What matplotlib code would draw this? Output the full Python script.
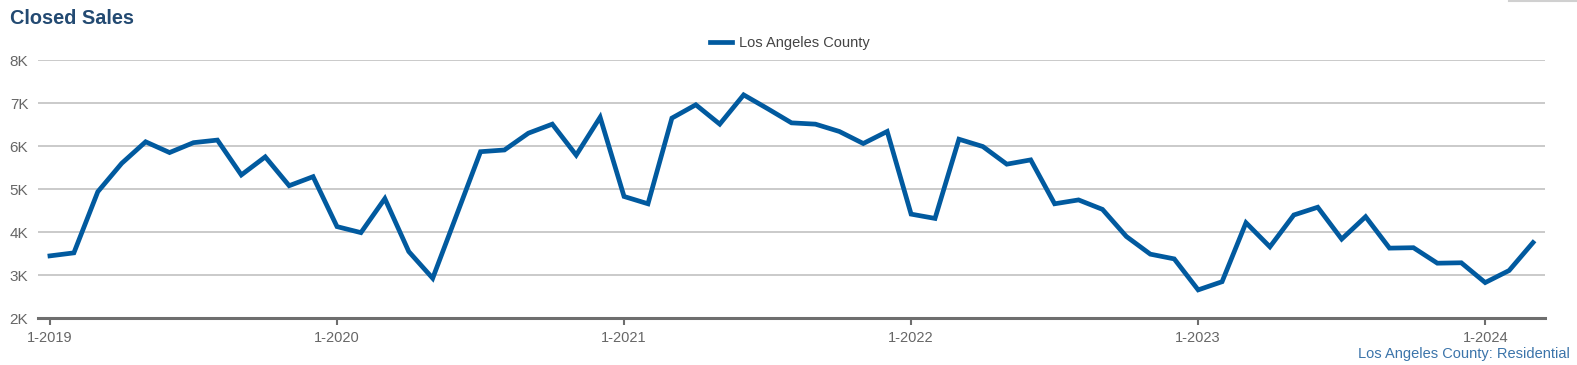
import matplotlib
matplotlib.use("Agg")
import matplotlib.pyplot as plt
from matplotlib.lines import Line2D
from matplotlib.ticker import FuncFormatter

plt.rcParams['font.family'] = ['Liberation Sans', 'DejaVu Sans']

# monthly closed sales, Jan 2019 .. Mar 2024 (thousands)
sales = [3.45, 3.52, 4.94, 5.60, 6.10, 5.85, 6.08, 6.14, 5.33, 5.75, 5.08, 5.29,
         4.13, 3.99, 4.78, 3.55, 2.93, 4.40, 5.87, 5.91, 6.30, 6.51, 5.79, 6.67,
         4.83, 4.66, 6.65, 6.96, 6.51, 7.19, 6.87, 6.54, 6.51, 6.34, 6.06, 6.34,
         4.42, 4.32, 6.16, 5.99, 5.58, 5.68, 4.66, 4.75, 4.53, 3.90, 3.49, 3.38,
         2.66, 2.85, 4.22, 3.66, 4.40, 4.58, 3.84, 4.36, 3.63, 3.64, 3.28, 3.29,
         2.83, 3.11, 3.76]
sales = [v * 1000 for v in sales]
months = list(range(len(sales)))
year_ticks = [0, 12, 24, 36, 48, 60]
year_labels = ['1-2019', '1-2020', '1-2021', '1-2022', '1-2023', '1-2024']
y_ticks = [2000, 3000, 4000, 5000, 6000, 7000, 8000]

fig = plt.figure(figsize=(15.77, 3.65), dpi=100)
ax = fig.add_axes([38 / 1577, 1 - 318.3 / 365, (1545 - 38) / 1577, (318.3 - 60) / 365])

ax.plot(months, sales, color='#015a9f', lw=3.4, solid_joinstyle='miter', zorder=3,
        label='Los Angeles County')

ax.set_xlim(-0.5, 62.5)
ax.set_ylim(2000, 8000)
ax.set_yticks(y_ticks)
ax.yaxis.set_major_formatter(FuncFormatter(lambda v, p: '%dK' % (v / 1000)))
ax.set_xticks(year_ticks)
ax.set_xticklabels(year_labels)

ax.grid(axis='y', color='#c6c6c6', lw=1.3)
ax.set_axisbelow(True)
for s in ['top', 'right', 'left']:
    ax.spines[s].set_visible(False)
ax.spines['bottom'].set_color('#6e6e6e')
ax.spines['bottom'].set_linewidth(2.2)
ax.spines['bottom'].set_zorder(4)

ax.tick_params(axis='y', length=0, pad=7, labelsize=11, labelcolor='#666666')
ax.tick_params(axis='x', length=5, width=1.5, color='#6e6e6e', pad=4,
               labelsize=10.5, labelcolor='#666666')

fig.text(10 / 1577, 1 - 18 / 365, 'Closed Sales', fontsize=14.3, fontweight='bold',
         color='#234a72', va='center', ha='left')

leg = ax.legend(loc='center', bbox_to_anchor=(790 / 1577, 1 - 43 / 365),
                bbox_transform=fig.transFigure, frameon=False, fontsize=10.5,
                handlelength=1.5, handletextpad=0.5)
for t in leg.get_texts():
    t.set_color('#444444')

fig.text(1570 / 1577, 1 - 354 / 365, 'Los Angeles County: Residential', fontsize=10.5,
         color='#3b74aa', ha='right', va='center')

fig.add_artist(Line2D([1509 / 1577, 1.0], [0.998, 0.998], color='#d0d0d0', lw=1.5))

fig.savefig('out.png', dpi=100)
